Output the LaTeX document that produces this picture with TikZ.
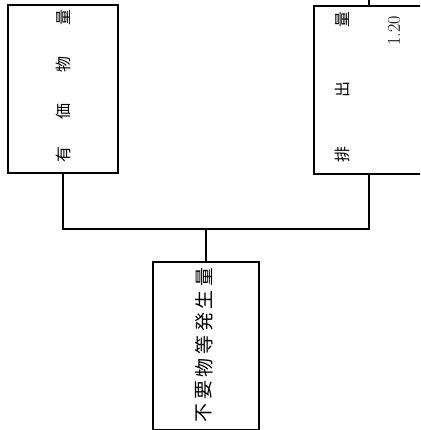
\documentclass[tikz,border=0pt]{standalone}
\usepackage{fontspec}
\newfontfamily\jpfont{Noto Sans CJK JP}
\begin{document}
\begin{tikzpicture}[x=1pt,y=-1pt,
    box/.style={draw,line width=1.2pt,minimum width=#1,minimum height=168pt,inner sep=0pt},
    box/.default=110pt,
    label/.style={rotate=90,font=\jpfont\fontsize{16}{16}\selectfont,inner sep=0pt}]
    \clip (0,0) rectangle (420,430);
    \useasboundingbox (0,0) rectangle (420,430);
        \node[box] (L) at (63,89){};
        \node[box] (R) at (369,90){};
        \node[box=106pt] (B) at (206,346){};
        \coordinate (J) at (206,229);
        \coordinate (T) at (369,-5);
        % left box
        \node[label] (L1) at (63,155){有};
        \node[label] (L2) at (63,112){価};
        \node[label] (L3) at (63,65){物};
        \node[label] (L4) at (63,18){量};
        % right box
        \node[label] (R1) at (342,155){排};
        \node[label] (R2) at (342,90){出};
        \node[label] (R3) at (342,20){量};
        \node[rotate=90,inner sep=0pt,font=\fontsize{18}{18}\selectfont] (R4) at (394,31){1.20};
        % bottom box
        \foreach \c [count=\i from 0] in {不,要,物,等,発,生,量}
            \node[label,font=\jpfont\fontsize{19}{19}\selectfont] (B\i) at (204,413-22.7*\i){\c};
        \draw [line width=1.2pt] (L.south) |- (J) -| (R.south);
        \draw [line width=1.2pt] (J) -- (B.north);
        \draw [line width=1.2pt] (R.north) -- (T);
    \end{tikzpicture}
\end{document}
